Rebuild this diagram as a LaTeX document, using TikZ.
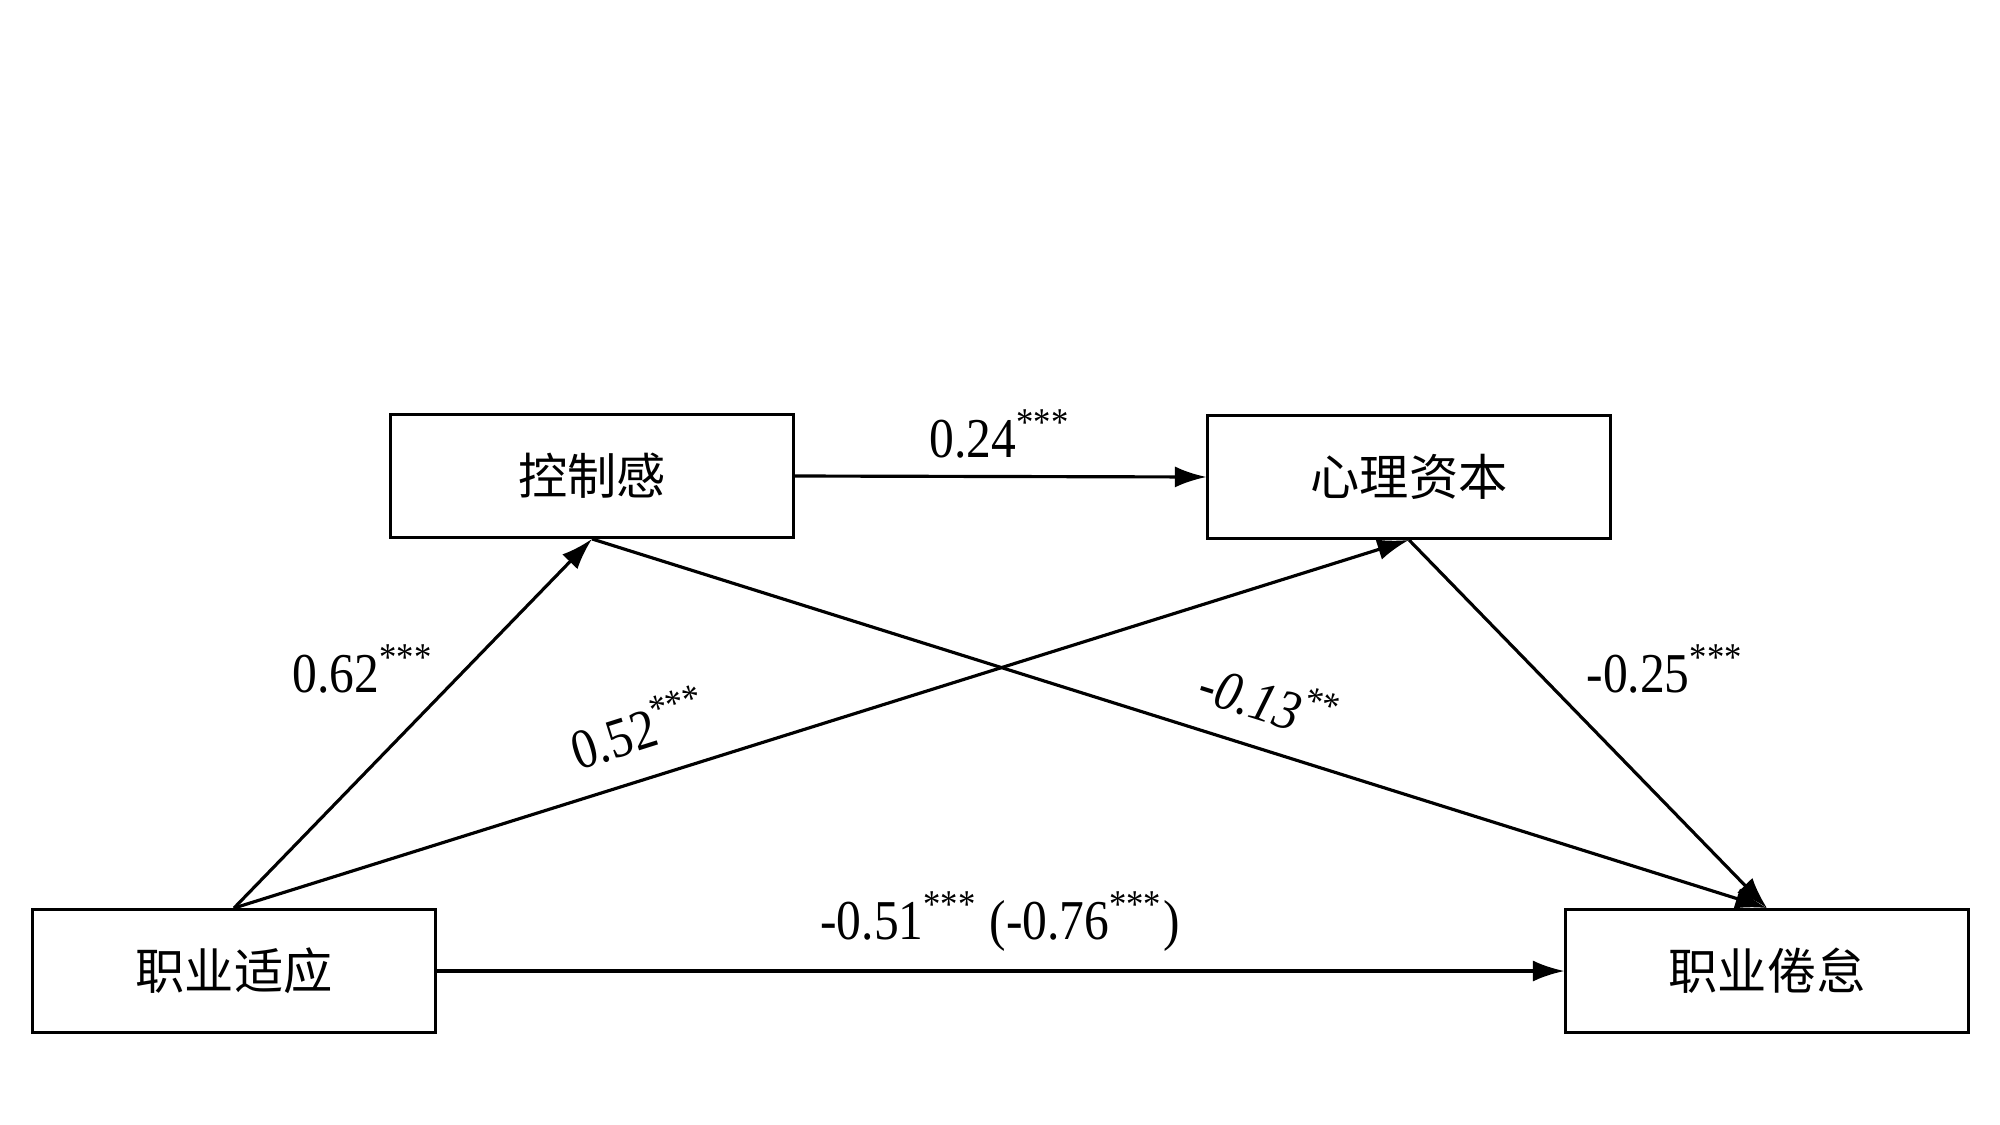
\documentclass[tikz,border=0pt]{standalone}
\usepackage{fontspec}
\setmainfont{Liberation Serif}
\newfontfamily\numfont[FakeStretch=0.88]{Liberation Serif}
\newfontfamily\cjk{Noto Sans CJK SC}
\usetikzlibrary{arrows.meta}
\begin{document}
\begin{tikzpicture}[x=0.01cm,y=-0.01cm,
  varbox/.style={draw,line width=0.8pt,minimum width=4.02cm,minimum height=1.23cm,inner sep=0pt,font=\cjk\fontsize{14}{16}\selectfont},
  path/.style={line width=0.9pt,-{Latex[length=9pt,width=6pt]}},
  coef/.style={font=\numfont\fontsize{16}{18}\selectfont,inner sep=0pt}]
\fill[white] (0,0) rectangle (2000,1124);
\useasboundingbox (0,0) rectangle (2000,1124);
\node[varbox] (kz) at (592,476) {控制感};
\node[varbox] (xl) at (1409,477) {心理资本};
\node[varbox] (sy) at (234,971) {职业适应};
\node[varbox] (jd) at (1767,971) {职业倦怠};
\draw[path] (kz.east) -- (xl.west);
\draw[path] (sy.north) -- (kz.south);
\draw[path] (sy.north) -- (xl.south);
\draw[path] (kz.south) -- (jd.north);
\draw[path] (xl.south) -- (jd.north);
\draw[path] (sy.east) -- (jd.west);
\node[coef] (l1) at (1000,434) {0.24\textsuperscript{***}};
\node[coef] (l2) at (363,669) {0.62\textsuperscript{***}};
\node[coef,rotate=17.5] (l3) at (638,727) {0.52\textsuperscript{***}};
\node[coef,rotate=-17.5] (l4) at (1269,699) {\itshape -0.13\textsuperscript{**}};
\node[coef] (l5) at (1665,669) {-0.25\textsuperscript{***}};
\node[coef] (l6) at (1000,922) {-0.51\textsuperscript{***} (-0.76\textsuperscript{***})};
\end{tikzpicture}
\end{document}
